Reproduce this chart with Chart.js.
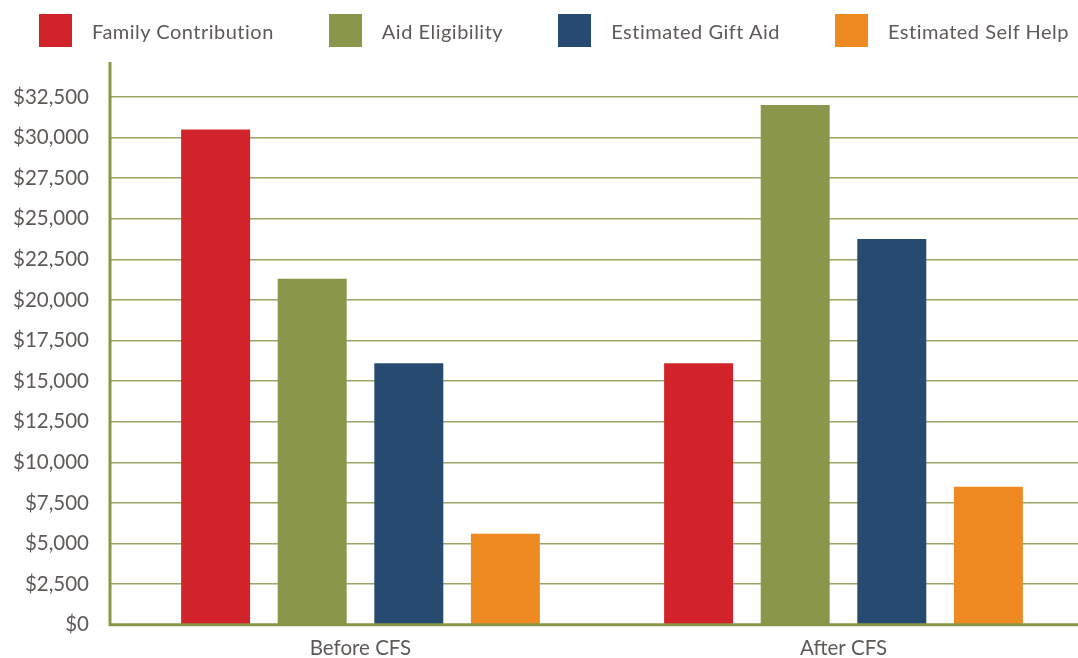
<!DOCTYPE html>
<html>
<head>
<meta charset="utf-8">
<title>Before / After CFS</title>
<script src="https://cdn.jsdelivr.net/npm/chart.js@4.4.1/dist/chart.umd.min.js"></script>
<style>
    html, body {
        margin: 0;
        padding: 0;
        overflow: hidden;
        background: #fff;
    }
    #wrap {
        position: relative;
        width: 1078px;
        height: 658px;
        overflow: hidden;
    }
    #chart {
        position: absolute;
        left: 0;
        top: 0;
    }
    #legend {
        position: absolute;
        left: 0;
        top: 0;
        width: 1078px;
        height: 61px;
        z-index: 2;
    }
    #legend ul {
        display: flex;
        align-items: center;
        height: 61px;
        margin: 0;
        padding: 0 0 0 39px;
        list-style: none;
        white-space: nowrap;
    }
    #legend li {
        display: flex;
        align-items: center;
        flex-shrink: 0;
        margin-right: 55px;
        font-family: Lato, "Open Sans", sans-serif;
        font-size: 20px;
        letter-spacing: 0.5px;
        color: #5f5a57;
    }
    #legend li span {
        display: inline-block;
        flex-shrink: 0;
        width: 33px;
        height: 33px;
        margin-right: 20px;
    }
</style>
</head>
<body>
<div id="wrap">
    <div id="legend"></div>
    <canvas id="chart" width="1090" height="658"></canvas>
</div>
<script>
// Dữ liệu
const categories = ['Before CFS', 'After CFS'];
const familyContribution = [30500, 16100];
const aidEligibility = [21300, 32000];
const estimatedGiftAid = [16100, 23750];
const estimatedSelfHelp = [5600, 8500];

// Trục y: bước 2500, đỉnh trục hơi cao hơn vạch $32,500
const yStep = 2500;
const yMax = 34650;

const olive = '#8a9647';
const gridColor = '#9aa664';
const textColor = '#5f5a57';

// Chú thích dạng HTML, dựng từ datasets của biểu đồ
const htmlLegend = {
    id: 'htmlLegend',
    afterUpdate(chart) {
        const box = document.getElementById('legend');
        box.innerHTML = '';
        const ul = document.createElement('ul');
        chart.data.datasets.forEach(function (ds) {
            const li = document.createElement('li');
            const sw = document.createElement('span');
            sw.style.backgroundColor = ds.backgroundColor;
            li.appendChild(sw);
            li.appendChild(document.createTextNode(ds.label));
            ul.appendChild(li);
        });
        box.appendChild(ul);
    }
};

// Đường trục trái và trục đáy (vẽ đè lên cột như hình gốc)
const axisLines = {
    id: 'axisLines',
    afterDatasetsDraw(chart) {
        const ctx = chart.ctx;
        const area = chart.chartArea;
        const yScale = chart.scales.y;
        const x0 = area.left - 9;
        const yZero = yScale.getPixelForValue(0);
        ctx.save();
        ctx.strokeStyle = olive;
        ctx.lineWidth = 3;
        ctx.beginPath();
        ctx.moveTo(x0, area.top);
        ctx.lineTo(x0, yZero);
        ctx.lineTo(area.right, yZero);
        ctx.stroke();
        ctx.restore();
    }
};

const ctx = document.getElementById('chart').getContext('2d');

const chart = new Chart(ctx, {
    type: 'bar',
    data: {
        labels: categories,
        datasets: [{
            label: 'Family Contribution',
            data: familyContribution,
            backgroundColor: '#d2232a'
        }, {
            label: 'Aid Eligibility',
            data: aidEligibility,
            backgroundColor: '#8a9649'
        }, {
            label: 'Estimated Gift Aid',
            data: estimatedGiftAid,
            backgroundColor: '#274b70'
        }, {
            label: 'Estimated Self Help',
            data: estimatedSelfHelp,
            backgroundColor: '#ef8a23'
        }]
    },
    options: {
        responsive: false,
        animation: false,
        categoryPercentage: 0.8,
        barPercentage: 0.714,
        layout: {
            padding: { top: 62, right: 5, left: 0, bottom: 0 }
        },
        plugins: {
            legend: { display: false },
            tooltip: { enabled: false }
        },
        scales: {
            x: {
                grid: { display: false, drawTicks: false },
                border: { display: false },
                ticks: {
                    color: textColor,
                    padding: 11,
                    font: { family: 'Lato', size: 20.5 }
                },
                afterFit: function (scale) {
                    scale.height = 31;
                }
            },
            y: {
                min: 0,
                max: yMax,
                border: { display: false },
                grid: {
                    color: gridColor,
                    tickColor: gridColor,
                    lineWidth: 1.5,
                    tickLength: 9
                },
                ticks: {
                    color: textColor,
                    padding: 21,
                    font: { family: 'Lato', size: 20.5 },
                    callback: function (value) {
                        return '$' + value.toLocaleString('en-US');
                    }
                },
                afterBuildTicks: function (scale) {
                    // vạch mỗi 2500 từ 0, không vẽ vạch ở đỉnh trục
                    const ticks = [];
                    for (let v = 0; v <= scale.max; v += yStep) {
                        ticks.push({ value: v });
                    }
                    scale.ticks = ticks;
                },
                afterFit: function (scale) {
                    scale.width = 119;
                }
            }
        }
    },
    plugins: [htmlLegend, axisLines]
});
</script>
</body>
</html>
